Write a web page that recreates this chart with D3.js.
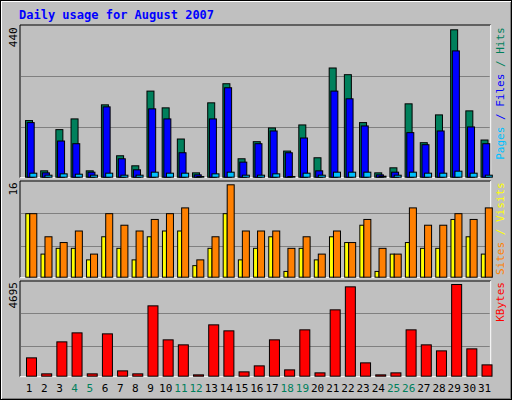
<!DOCTYPE html>
<html><head><meta charset="utf-8">
<script src="https://cdn.jsdelivr.net/npm/d3@7"></script>
<style>body{margin:0;background:#fff}</style></head>
<body><svg id="c" width="512" height="400"></svg>
<script>
const days = d3.range(1,32);
const weekends = [4,5,11,12,18,19,25,26];
const hits = [169,19,142,174,19,216,64,34,257,207,114,13,222,279,55,106,147,78,156,58,326,306,163,13,28,219,103,186,440,198,111];
const files = [163,13,108,100,15,210,55,22,204,174,73,7,174,267,45,100,138,73,117,19,257,234,153,7,15,133,97,138,377,150,100];
const pages = [12,6,10,9,6,12,6,6,15,12,12,2,10,15,6,6,10,2,12,6,15,15,15,3,6,15,12,12,18,12,6];
const sites = [11,4,5,5,3,7,5,3,7,8,8,2,5,11,3,5,7,1,5,3,7,6,9,1,4,6,5,5,10,7,4];
const visits = [11,7,6,8,4,11,9,8,10,11,12,3,7,16,8,8,8,5,7,4,8,6,10,5,4,12,9,9,11,10,12];
const kbytes = [939,120,1758,2219,120,2168,273,120,3602,1861,1605,68,2629,2322,222,529,1861,324,2373,171,3397,4575,683,68,171,2373,1605,1297,4695,1400,580];
const maxLabels = ["440","16","4695"];

const svg = d3.select("#c");
const FONT = "'DejaVu Sans Mono', monospace";
svg.append("rect").attr("x",0.5).attr("y",0.5).attr("width",511).attr("height",399).attr("fill","#C0C0C0").attr("stroke","#000");
svg.append("line").attr("x1",1).attr("y1",398.5).attr("x2",511).attr("y2",398.5).attr("stroke","#808080");
svg.append("line").attr("x1",510.5).attr("y1",1).attr("x2",510.5).attr("y2",399).attr("stroke","#808080");
svg.append("line").attr("x1",1).attr("y1",1.5).attr("x2",511).attr("y2",1.5).attr("stroke","#fff");
svg.append("line").attr("x1",1.5).attr("y1",1).attr("x2",1.5).attr("y2",399).attr("stroke","#fff");
svg.append("text").attr("x",19).attr("y",19).attr("font-family",FONT).attr("font-weight","bold").attr("font-size",12).attr("fill","#0000FF").text("Daily usage for August 2007");

const x = d3.scaleBand().domain(days).range([20,490.7]);
const X0=20, X1=490.7;

function panel(top, base, maxY, maxV, grids, label, rlabels){
  svg.append("line").attr("x1",X0).attr("x2",X1).attr("y1",top).attr("y2",top).attr("stroke","#000");
  svg.append("line").attr("x1",X0).attr("x2",X0).attr("y1",top).attr("y2",base+1).attr("stroke","#000");
  svg.append("line").attr("x1",X0).attr("x2",X1).attr("y1",base+1).attr("y2",base+1).attr("stroke","#fff");
  svg.append("line").attr("x1",X1).attr("x2",X1).attr("y1",top).attr("y2",base+1).attr("stroke","#fff");
  grids.forEach(g=>svg.append("line").attr("x1",X0+1).attr("x2",X1-1).attr("y1",g).attr("y2",g).attr("stroke","#808080"));
  const y = d3.scaleLinear().domain([0,maxV]).range([base,maxY]);
  svg.append("text").attr("transform",`translate(17,${maxY-2}) rotate(-90)`).attr("text-anchor","end")
    .attr("font-family",FONT).attr("font-size",11).attr("fill","#000").text(label);
  const t = svg.append("text").attr("transform",`translate(504,${maxY-2}) rotate(-90)`).attr("text-anchor","end")
    .attr("font-family",FONT).attr("font-size",11);
  rlabels.forEach(([s,c])=>t.append("tspan").attr("fill",c).text(s));
  return y;
}
function bars(y, data, off, w, color){
  svg.append("g").selectAll("rect").data(data).join("rect")
    .attr("x",(d,i)=>x(days[i])+off+0.5).attr("width",w)
    .attr("y",d=>y(d)+0.5).attr("height",d=>Math.max(0,y(0)-y(d)))
    .attr("fill",color).attr("stroke","#000");
}
const y1 = panel(25,176.7,29.3,440,[76.5,127.5],maxLabels[0],[["Pages","#00C0FF"],[" / ","#0000FF"],["Files","#0000FF"],[" / ","#00805C"],["Hits","#00805C"]]);
bars(y1,hits,5,7,"#00805C");
bars(y1,files,6.7,7,"#0000FF");
bars(y1,pages,9.3,7,"#00C0FF");

const y2 = panel(181,276.7,184.3,16,[213.5,246.5],maxLabels[1],[["Sites","#FF8000"],[" / ","#FFFF00"],["Visits","#FFFF00"]]);
bars(y2,sites,5.3,4,"#FFFF00");
bars(y2,visits,9.3,7,"#FF8000");

const y3 = panel(281,375.7,284,4695,[313.5,346.5],maxLabels[2],[["KBytes","#FF0000"]]);
bars(y3,kbytes,6,10,"#FF0000");

svg.append("g").selectAll("text").data(days).join("text")
  .attr("x",d=>x(d)+x.bandwidth()/2+1.5).attr("y",392).attr("text-anchor","middle")
  .attr("font-family",FONT).attr("font-size",11)
  .attr("fill",d=>weekends.includes(d)?"#00805C":"#000").text(d=>d);
</script></body></html>
